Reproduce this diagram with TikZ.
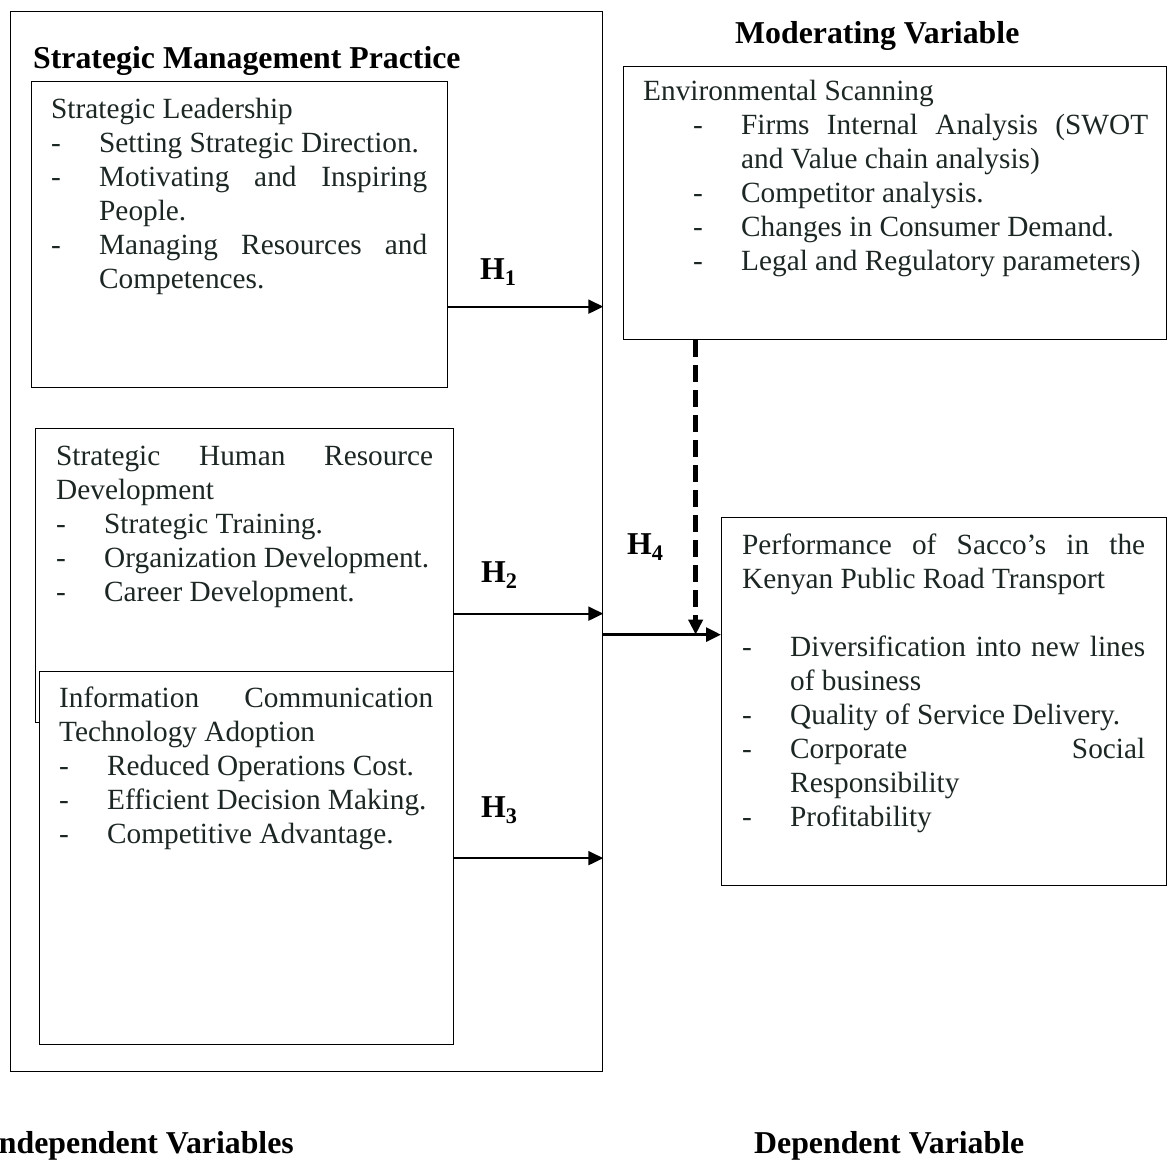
\documentclass[tikz,border=0pt]{standalone}
\usepackage{fontspec}
\setmainfont{Liberation Serif}
\usetikzlibrary{arrows.meta}

\definecolor{textcol}{RGB}{28,38,36}
\def\bodyfont{\fontsize{29.3pt}{34pt}\selectfont}
\def\headfont{\fontsize{31.8pt}{36pt}\selectfont\bfseries}
\newcommand{\dashitem}[2][0pt]{\par\hangindent=\dimexpr#1+48pt\relax\hangafter=1\noindent\hspace*{#1}\makebox[48pt][l]{-}#2}
\hyphenpenalty=10000
\tolerance=10000
\parskip=0pt

\begin{document}
\begin{tikzpicture}
[x=1pt, y=-1pt,
frame/.style={draw, line width=1.3pt, inner sep=0pt, anchor=north west},
txt/.style={inner sep=0pt, anchor=base west, align=justify, text=textcol, font=\bodyfont, text width=#1},
head/.style={inner sep=0pt, anchor=base west, font=\headfont},
>={Triangle[length=15pt, width=14pt]},
harrow/.style={->, line width=2pt},
mainarrow/.style={->, line width=3pt},
modarrow/.style={->, line width=5pt, dash pattern=on 17pt off 8pt}]

\useasboundingbox (0,0) rectangle (1170,1160);

% independent side
\node [frame, minimum width=592pt, minimum height=1060pt] (smp) at (10,11) {};
\node [head] (smphead) at (33,68) {Strategic Management Practice};

\node [frame, minimum width=416pt, minimum height=306pt] (lead) at (31,81) {};
\node [txt=376pt] (leadtxt) at (51,118) {Strategic Leadership
\dashitem{Setting Strategic Direction.}
\dashitem{Motivating and Inspiring\linebreak People.}
\dashitem{Managing Resources and\linebreak Competences.}\par};

\node [frame, minimum width=418pt, minimum height=294pt] (shrd) at (35,428) {};
\node [txt=377pt] (shrdtxt) at (56,465) {Strategic Human Resource\linebreak Development
\dashitem{Strategic Training.}
\dashitem{Organization Development.}
\dashitem{Career Development.}\par};

\node [frame, fill=white, minimum width=414pt, minimum height=373pt] (ict) at (39,671) {};
\node [txt=374pt] (icttxt) at (59,707) {Information Communication\linebreak Technology Adoption
\dashitem{Reduced Operations Cost.}
\dashitem{Efficient Decision Making.}
\dashitem{Competitive Advantage.}\par};

% moderating
\node [head] (modhead) at (735,43) {Moderating Variable};
\node [frame, minimum width=543pt, minimum height=273pt] (env) at (623,66) {};
\node [txt=505pt] (envtxt) at (643,100) {Environmental Scanning
\dashitem[50pt]{Firms Internal Analysis (SWOT\linebreak and Value chain analysis)}
\dashitem[50pt]{Competitor analysis.}
\dashitem[50pt]{Changes in Consumer Demand.}
\dashitem[50pt]{Legal and Regulatory parameters)}\par};

% dependent
\node [frame, minimum width=445pt, minimum height=368pt] (perf) at (721,517) {};
\node [txt=403pt] (perftxt) at (742,554) {Performance of Sacco’s in the\linebreak Kenyan Public Road Transport\par\mbox{}
\dashitem{Diversification into new lines\linebreak of business}
\dashitem{Quality of Service Delivery.}
\dashitem{Corporate Social\linebreak Responsibility}
\dashitem{Profitability}\par};

\node [head, anchor=base east] (indep) at (294,1153) {Independent Variables};
\node [head] (dep) at (754,1153) {Dependent Variable};

% hypotheses
\node [head] (h1) at (480,279) {H\textsubscript{1}};
\node [head] (h2) at (481,582) {H\textsubscript{2}};
\node [head] (h3) at (481,817) {H\textsubscript{3}};
\node [head] (h4) at (627,554) {H\textsubscript{4}};

\coordinate (h1start) at ([yshift=-72pt]lead.east);
\coordinate (h2start) at ([yshift=-38pt]shrd.east);
\coordinate (perfin) at ([yshift=67pt]perf.west);
\coordinate (modout) at ([xshift=-199.5pt]env.south);

\draw [harrow] (h1start) -- (h1start -| smp.east);
\draw [harrow] (h2start) -- (h2start -| smp.east);
\draw [harrow] (ict.east) -- (ict.east -| smp.east);
\draw [mainarrow] (perfin -| smp.east) -- (perfin);
\draw [modarrow] (modout) -- (modout |- perfin);
\end{tikzpicture}
\end{document}
